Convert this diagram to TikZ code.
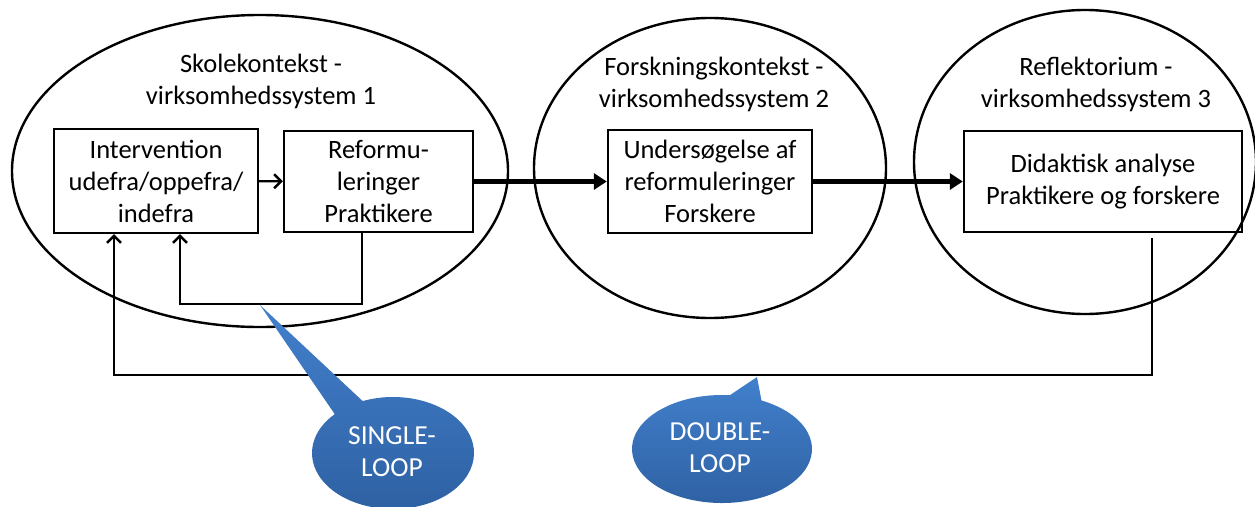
\documentclass[tikz,border=0pt]{standalone}
\usepackage{fontspec}
\setmainfont{Carlito}
\usetikzlibrary{arrows.meta,shapes.geometric}
\definecolor{btop}{RGB}{66,128,204}
\definecolor{bbot}{RGB}{46,96,162}
\begin{document}
\begin{tikzpicture}[x=1pt,y=-1pt,
  ctx/.style={draw, line width=2.4pt, ellipse, inner sep=0pt},
  box/.style={draw, line width=2.4pt, rectangle, inner sep=0pt, align=center, font=\fontsize{26.5}{32}\selectfont},
  hdr/.style={align=center, font=\fontsize{26.5}{32}\selectfont},
  flow/.style={line width=4.5pt, -{Triangle[length=13pt,width=16pt]}},
  barb/.style={-{Straight Barb[length=7pt,width=14pt]}},
  fb/.style={line width=2.4pt},
  bubble/.style={top color=btop, bottom color=bbot, draw=none},
  btext/.style={align=center, text=white, font=\fontsize{27.5}{32}\selectfont}]
\useasboundingbox (0,0) rectangle (1255,506);

% context ellipses
\node[ctx, minimum width=496pt, minimum height=312pt] (e1) at (260,171) {};
\node[ctx, minimum width=352pt, minimum height=300pt] (e2) at (710,168) {};
\node[ctx, minimum width=342pt, minimum height=304pt] (e3) at (1085,162) {};

% headers
\node[hdr] (h1) at (261,81) {Skolekontekst -\\virksomhedssystem 1};
\node[hdr] (h2) at (714,84) {Forskningskontekst -\\virksomhedssystem 2};
\node[hdr] (h3) at (1096,84) {Reflektorium -\\virksomhedssystem 3};

% boxes
\node[box, minimum width=204pt, minimum height=104pt] (b1) at (156,181) {Intervention\\udefra/oppefra/\\indefra};
\node[box, minimum width=189pt, minimum height=101pt] (b2) at (378.5,181.5) {Reformu-\\leringer\\Praktikere};
\node[box, minimum width=204pt, minimum height=103pt] (b3) at (710,181.5) {Undersøgelse af\\reformuleringer\\Forskere};
\node[box, minimum width=278pt, minimum height=101pt] (b4) at (1103,181.5) {Didaktisk analyse\\Praktikere og forskere};

% forward arrows
\draw[fb, barb] (b1) -- (b2);
\draw[flow] (b2) -- (b3);
\draw[flow] (b3) -- (b4);

% single loop
\coordinate (scorner) at (180,304);
\draw[fb, barb] ([xshift=-16.5pt]b2.south) |- (scorner) -- (scorner |- b1.south);

% double loop
\coordinate (dstart) at (1152,238);
\coordinate (dcorner) at (114,375);
\draw[fb, barb] (dstart) |- (dcorner) -- (dcorner |- b1.south);

% callouts
\shade[bubble] (393,453) ++(248:81 and 56) arc[start angle=248, end angle=584, x radius=81, y radius=56] -- (260,305) -- cycle;
\node[btext] (s1) at (392,452) {SINGLE-\\LOOP};
\shade[bubble] (722,449) ++(296:90 and 54) arc[start angle=296, end angle=635, x radius=90, y radius=54] -- (757,377) -- cycle;
\node[btext] (s2) at (720,448) {DOUBLE-\\LOOP};
\end{tikzpicture}
\end{document}
